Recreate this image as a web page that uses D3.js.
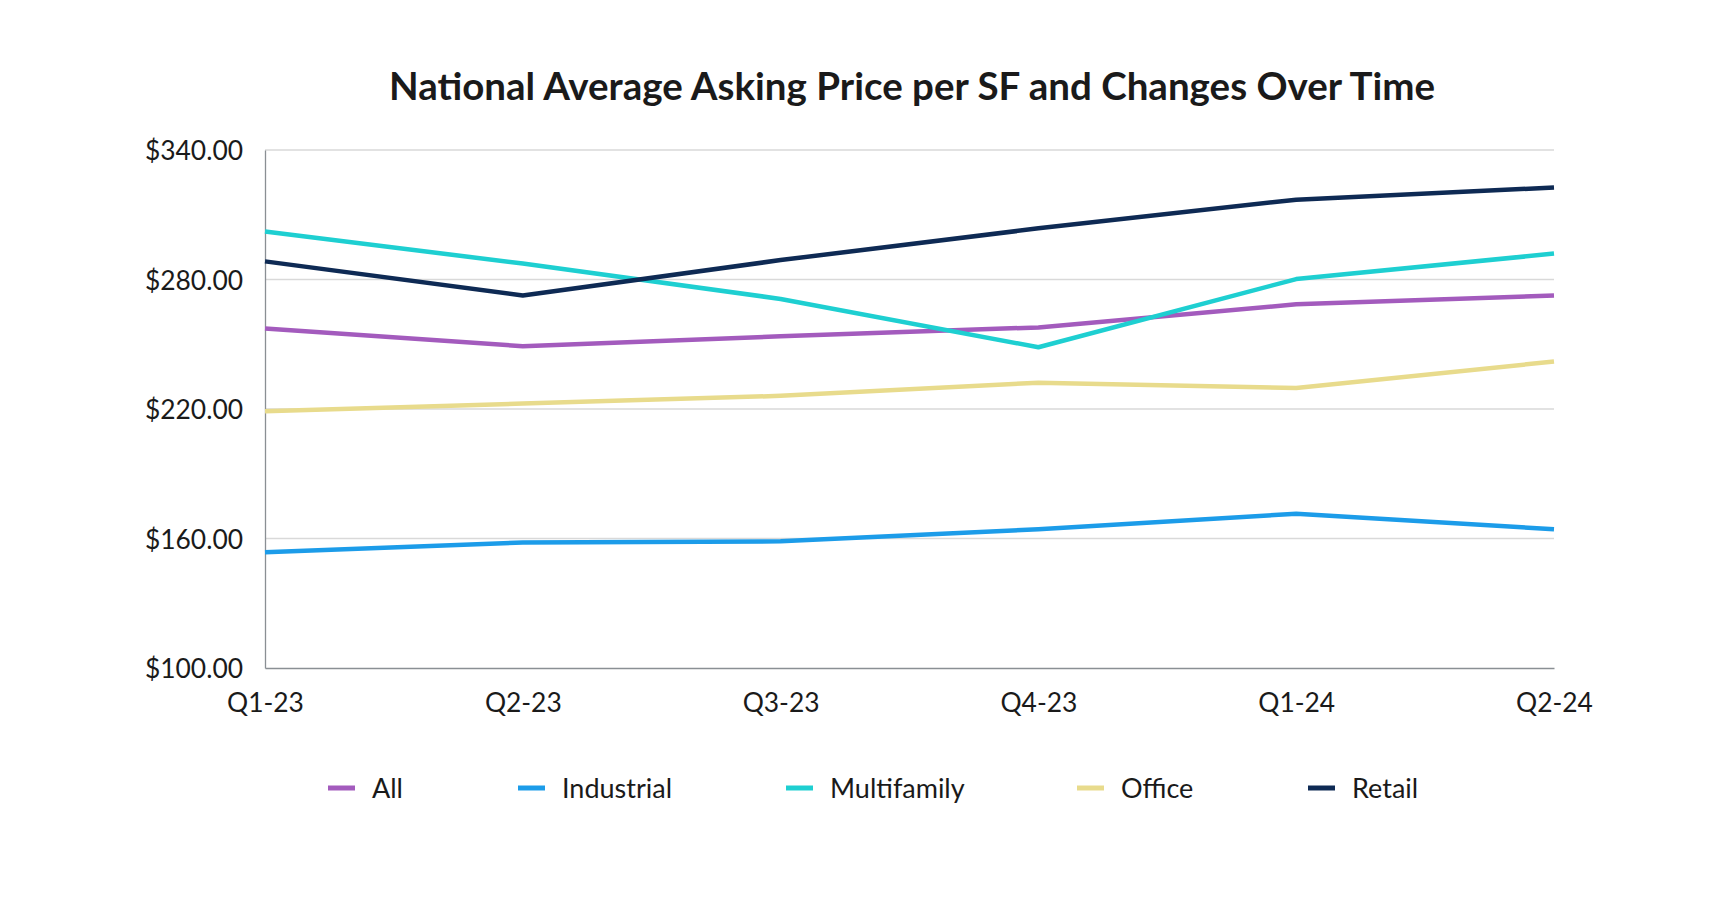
<!DOCTYPE html>
<html>
<head>
<meta charset="utf-8">
<script src="https://cdn.jsdelivr.net/npm/d3@7"></script>
<style>
  body { margin: 0; background: #fff; }
  text { font-family: Lato, "Open Sans", sans-serif; fill: #1a1a1a; }
</style>
</head>
<body>
<script>
const quarters = ["Q1-23", "Q2-23", "Q3-23", "Q4-23", "Q1-24", "Q2-24"];
const allPrice = [257.3, 249.1, 253.7, 257.8, 268.5, 272.6];
const industrial = [153.6, 158.2, 158.7, 164.3, 171.5, 164.3];
const multifamily = [302.2, 287.4, 271.0, 248.6, 280.2, 292.0];
const office = [219.0, 222.5, 226.1, 232.2, 229.7, 242.0];
const retail = [288.4, 272.6, 289.0, 303.7, 317.0, 322.6];
const yTicks = [100, 160, 220, 280, 340];

const seriesNames = ["All", "Industrial", "Multifamily", "Office", "Retail"];
const seriesValues = [allPrice, industrial, multifamily, office, retail];
const colors = ["#a35bbd", "#1c9ce9", "#1ecfd1", "#e8db8c", "#0e2a54"];

const W = 1730, H = 906;
const plotL = 265, plotR = 1554, plotT = 150, plotB = 668;

const svg = d3.select("body").append("svg")
    .attr("width", W)
    .attr("height", H);

const x = d3.scalePoint().domain(quarters).range([plotL, plotR]);
const y = d3.scaleLinear().domain([100, 340]).range([plotB, plotT]);

// title
svg.append("text")
    .attr("x", 912)
    .attr("y", 100)
    .attr("text-anchor", "middle")
    .style("font-size", "38.5px")
    .style("font-weight", "700")
    .text("National Average Asking Price per SF and Changes Over Time");

// gridlines
svg.append("g")
    .selectAll("line")
    .data(yTicks.filter(d => d > 100))
    .join("line")
    .attr("x1", plotL)
    .attr("x2", plotR)
    .attr("y1", d => y(d))
    .attr("y2", d => y(d))
    .attr("stroke", "#d9d9d9")
    .attr("stroke-width", 1.3);

// y axis
const yAxis = svg.append("g")
    .attr("transform", `translate(${plotL},0)`)
    .call(d3.axisLeft(y).tickValues(yTicks).tickSize(0).tickPadding(22)
        .tickFormat(d => "$" + d3.format(".2f")(d)));
yAxis.select(".domain").attr("stroke", "#8a8f94").attr("stroke-width", 1.3);
yAxis.selectAll("text").style("font-size", "26.4px").attr("dy", "0.36em");

// x axis
const xAxis = svg.append("g")
    .attr("transform", `translate(0,${plotB})`)
    .call(d3.axisBottom(x).tickSize(0).tickPadding(25));
xAxis.select(".domain").attr("stroke", "#8a8f94").attr("stroke-width", 1.3);
xAxis.selectAll("text").style("font-size", "26.4px");

// lines
const line = d3.line()
    .x((d, i) => x(quarters[i]))
    .y(d => y(d));

svg.append("g")
    .selectAll("path")
    .data(seriesValues)
    .join("path")
    .attr("d", d => line(d))
    .attr("fill", "none")
    .attr("stroke", (d, i) => colors[i])
    .attr("stroke-width", 4.5)
    .attr("stroke-linejoin", "round");

// legend
const legendX = [328, 518, 786, 1077, 1308];
const legend = svg.append("g")
    .selectAll("g")
    .data(seriesNames)
    .join("g")
    .attr("transform", (d, i) => `translate(${legendX[i]},788)`);

legend.append("line")
    .attr("x1", 0).attr("x2", 27)
    .attr("y1", 0).attr("y2", 0)
    .attr("stroke", (d, i) => colors[i])
    .attr("stroke-width", 5);

legend.append("text")
    .attr("x", 44)
    .attr("y", 0)
    .attr("dy", "0.36em")
    .style("font-size", "27px")
    .text(d => d);
</script>
</body>
</html>
